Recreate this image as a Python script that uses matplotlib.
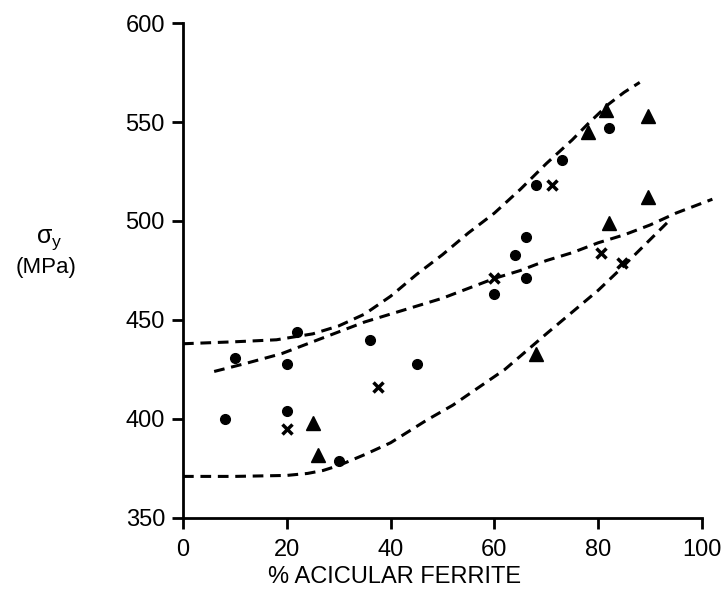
import matplotlib.pyplot as plt

# Data
circle_x = [8, 10, 20, 20, 22, 30, 36, 45, 60, 64, 66, 66, 68, 73, 82]
circle_y = [400, 431, 428, 404, 444, 379, 440, 428, 463, 483, 492, 471, 518, 531, 547]

cross_x = [20, 37.5, 60, 71, 80.5, 84.5]
cross_y = [395, 416, 471, 518, 484, 479]

tri_x = [25, 26, 68, 78, 81.5, 89.5, 82, 89.5]
tri_y = [398, 382, 433, 545, 556, 553, 499, 512]

# Dashed bounding / trend curves
upper_x = [0, 10, 18, 25, 30, 35, 40, 45, 50, 55, 60, 65, 70, 75, 78, 80, 82, 85, 88]
upper_y = [438, 439, 440, 443, 447, 453, 462, 473, 483, 494, 504, 516, 529, 541, 549, 554, 559, 565, 570]

middle_x = [6, 12, 19, 25, 30, 35, 40, 45, 50, 55, 60, 65, 70, 75, 80, 85, 90, 95, 102]
middle_y = [424, 428, 433, 439, 444, 449, 453, 457, 461, 466, 471, 475, 480, 484, 489, 493, 498, 504, 511]

lower_x = [0, 10, 20, 24, 27, 30, 35, 40, 47, 52, 57, 62, 66, 70, 75, 80, 84, 89, 94]
lower_y = [371, 371, 371.5, 372.5, 374, 376.5, 382, 388, 399.5, 407, 416, 425, 434, 443, 454, 465, 475, 488, 501]

plt.rcParams['font.family'] = ['Liberation Sans', 'DejaVu Sans']

fig = plt.figure(figsize=(7.28, 5.96), dpi=100)
ax = fig.add_axes([0.2514, 0.1309, 0.7129, 0.8305])

dash = dict(color='black', lw=2.2, linestyle=(0, (3.5, 2.2)), clip_on=False)
ax.plot(upper_x, upper_y, **dash)
ax.plot(middle_x, middle_y, **dash)
ax.plot(lower_x, lower_y, **dash)

ax.plot(circle_x, circle_y, 'o', color='black', markersize=7, clip_on=False)
ax.plot(cross_x, cross_y, 'x', color='black', markersize=7, markeredgewidth=2.5, clip_on=False)
ax.plot(tri_x, tri_y, '^', color='black', markersize=10, clip_on=False)

ax.set_xlim(0, 100)
ax.set_ylim(350, 600)
ax.set_xticks([0, 20, 40, 60, 80, 100])
ax.set_yticks([350, 400, 450, 500, 550, 600])

for side in ['top', 'right']:
    ax.spines[side].set_visible(False)
for side in ['left', 'bottom']:
    ax.spines[side].set_linewidth(2)

ax.tick_params(axis='both', labelsize=17, width=2, length=8, colors='black')
ax.tick_params(axis='x', pad=7)
ax.tick_params(axis='y', pad=5)

ax.set_xlabel('% ACICULAR FERRITE', fontsize=17)
ax.xaxis.set_label_coords(0.408, -0.098)
fig.text(0.068, 0.598, 'σ$_\\mathregular{y}$', fontsize=18, ha='center', va='center')
fig.text(0.063, 0.552, '(MPa)', fontsize=16, ha='center', va='center')

fig.savefig('out.png', dpi=100)
